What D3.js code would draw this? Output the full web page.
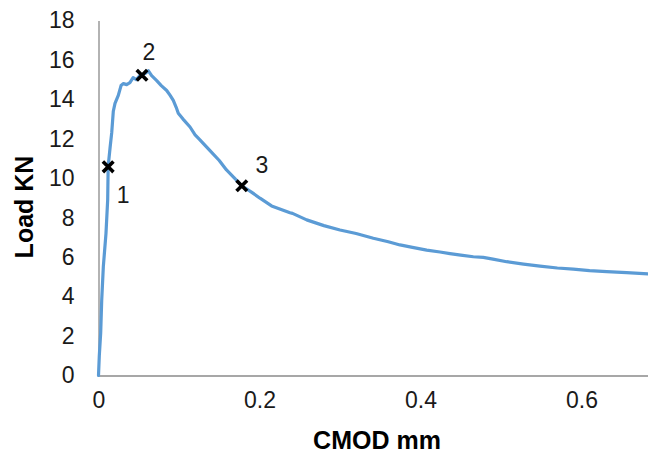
<!DOCTYPE html>
<html>
<head>
<meta charset="utf-8">
<script src="https://cdn.jsdelivr.net/npm/d3@7"></script>
<style>
  html, body { margin: 0; padding: 0; background: #fff; }
  svg { display: block; font-family: "Liberation Sans", Arial, sans-serif; }
</style>
</head>
<body>
<svg id="chart" width="648" height="457"></svg>
<script>
// ---- data ----
const cmod = [0, 0.001, 0.0027, 0.004, 0.006, 0.0093, 0.0114, 0.012, 0.0145, 0.0164, 0.0184, 0.0205,
  0.0246, 0.028, 0.031, 0.035, 0.039, 0.043, 0.047, 0.051, 0.055, 0.059, 0.062, 0.066, 0.0723, 0.078,
  0.0847, 0.089, 0.0929, 0.0965, 0.0991, 0.105, 0.1137, 0.12, 0.126, 0.1385, 0.15, 0.159, 0.168, 0.178,
  0.19, 0.2006, 0.215, 0.2379, 0.241, 0.2586, 0.28, 0.3, 0.32, 0.3414, 0.36, 0.3745, 0.39, 0.4077, 0.4242,
  0.4366, 0.45, 0.4656, 0.478, 0.49, 0.507, 0.528, 0.5484, 0.57, 0.5898, 0.61, 0.6313, 0.656, 0.6826, 0.70];
const load = [0, 1.0, 2.15, 3.83, 5.52, 7.21, 8.9, 10.6, 11.6, 12.3, 13.4, 13.8,
  14.2, 14.7, 14.8, 14.75, 14.85, 15.1, 15.0, 15.2, 15.25, 15.35, 15.45, 15.2, 14.95, 14.7,
  14.45, 14.2, 13.95, 13.6, 13.3, 13.0, 12.6, 12.2, 11.95, 11.4, 10.9, 10.42, 10.05, 9.62,
  9.3, 8.99, 8.6, 8.25, 8.22, 7.89, 7.6, 7.38, 7.2, 6.96, 6.78, 6.62, 6.5, 6.36, 6.26,
  6.18, 6.1, 6.02, 5.99, 5.9, 5.77, 5.65, 5.55, 5.45, 5.39, 5.32, 5.27, 5.22, 5.15, 5.1];
const pointX = [0.012, 0.054, 0.178];
const pointY = [10.58, 15.22, 9.62];
const pointLabels = ["1", "2", "3"];
const xTicks = [0, 0.2, 0.4, 0.6];
const yTicks = [0, 2, 4, 6, 8, 10, 12, 14, 16, 18];
const xTitle = "CMOD mm";
const yTitle = "Load KN";

// ---- drawing ----
const svg = d3.select("#chart");
const x = d3.scaleLinear().domain([0, 0.8]).range([98.5, 98.5 + 805 * 0.8]);
const y = d3.scaleLinear().domain([0, 18]).range([375.5, 20.5]);
const axisColor = "#8a8a8a";
const tickFont = 23;

svg.append("rect").attr("width", 648).attr("height", 457).attr("fill", "#fff");

// y axis
const yAxis = svg.append("g").attr("transform", `translate(${x(0)},0)`)
  .call(d3.axisLeft(y).tickValues(yTicks).tickSize(0).tickPadding(24).tickFormat(d3.format("d")));
yAxis.select(".domain").attr("stroke", axisColor).attr("stroke-width", 1.3);
yAxis.selectAll("text").attr("font-size", tickFont).attr("fill", "#1a1a1a")
  .attr("font-family", "Liberation Sans, Arial, sans-serif");

// x axis
const xAxis = svg.append("g").attr("transform", `translate(0,${y(0)})`)
  .call(d3.axisBottom(x).tickValues(xTicks).tickSize(0).tickPadding(16)
    .tickFormat(d => d === 0 ? "0" : d3.format(".1f")(d)));
xAxis.select(".domain").attr("stroke", axisColor).attr("stroke-width", 1.3);
xAxis.selectAll("text").attr("font-size", tickFont).attr("fill", "#1a1a1a")
  .attr("font-family", "Liberation Sans, Arial, sans-serif");

// curve
const data = cmod.map((c, i) => ({ c, l: load[i] }));
svg.append("path").datum(data)
  .attr("fill", "none").attr("stroke", "#5b9bd5").attr("stroke-width", 3.2)
  .attr("stroke-linejoin", "round").attr("stroke-linecap", "round")
  .attr("d", d3.line().x(d => x(d.c)).y(d => y(d.l)));

// markers
const labelOffsets = [[15, 36], [7, -15], [20, -13]];
pointX.forEach((px, i) => {
  const cx = x(px), cy = y(pointY[i]);
  const s = 4;
  svg.append("path")
    .attr("d", `M${cx - s},${cy - s}L${cx + s},${cy + s}M${cx - s},${cy + s}L${cx + s},${cy - s}`)
    .attr("stroke", "#000").attr("stroke-width", 3.6).attr("stroke-linecap", "square");
  svg.append("text").attr("x", cx + labelOffsets[i][0]).attr("y", cy + labelOffsets[i][1])
    .attr("text-anchor", "middle").attr("font-size", tickFont).attr("fill", "#1a1a1a")
    .text(pointLabels[i]);
});

// titles
svg.append("text").attr("x", 377).attr("y", 449).attr("text-anchor", "middle")
  .attr("font-size", 25).attr("font-weight", "bold").attr("fill", "#000").text(xTitle);
svg.append("text").attr("transform", "translate(33,207) rotate(-90)").attr("text-anchor", "middle")
  .attr("font-size", 25).attr("font-weight", "bold").attr("fill", "#000").text(yTitle);
</script>
</body>
</html>
